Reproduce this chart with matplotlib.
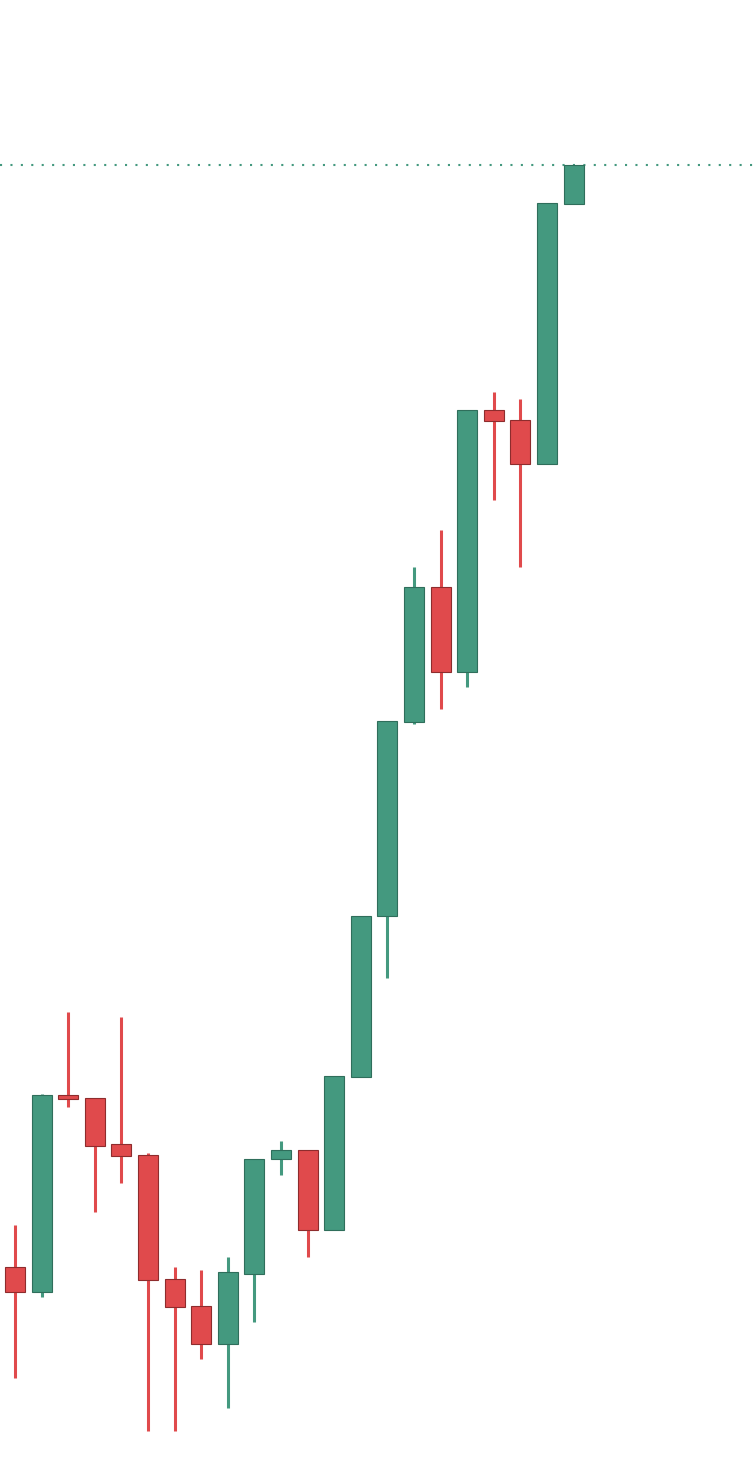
import matplotlib
matplotlib.use('Agg')
import matplotlib.pyplot as plt

# candle data (open, high, low, close)
opens = [19.5, 17.0, 36.7, 36.4, 31.8, 30.7, 18.3, 15.6, 11.8, 18.8, 30.3,
         31.2, 23.2, 38.5, 54.6, 74.0, 87.5, 79.0, 105.2, 104.2, 99.8, 125.8]
highs = [23.7, 36.8, 45.0, 36.4, 44.5, 30.9, 19.5, 19.2, 20.5, 30.3, 32.1,
         31.2, 38.6, 54.6, 74.1, 89.5, 93.2, 105.2, 107.0, 106.3, 125.9, 129.7]
lows = [8.4, 16.5, 35.5, 25.0, 27.9, 3.1, 3.1, 10.3, 5.4, 14.0, 28.7,
        20.5, 23.2, 38.5, 48.4, 73.8, 75.3, 77.5, 96.2, 89.5, 99.8, 125.8]
closes = [17.0, 36.7, 36.3, 31.6, 30.6, 18.2, 15.5, 11.8, 19.0, 30.3, 31.2,
          23.2, 38.6, 54.6, 74.1, 87.5, 79.0, 105.2, 104.1, 99.8, 125.9, 129.7]

up_color = '#44997f'
up_edge = '#2f6e5b'
down_color = '#e04a4c'
down_edge = '#8e2c2d'

fig = plt.figure(figsize=(7.54, 14.62), dpi=100)
ax = fig.add_axes([0, 0, 1, 1])

idx = list(range(len(opens)))
for i in idx:
    o, h, l, c = opens[i], highs[i], lows[i], closes[i]
    up = c >= o
    fc = up_color if up else down_color
    ec = up_edge if up else down_edge
    # wick
    ax.vlines(i, l, h, color=fc, linewidth=2.2, zorder=1)
    # body
    ax.bar(i, abs(c - o), bottom=min(o, c), width=0.75,
           color=fc, edgecolor=ec, linewidth=0.8, zorder=2)

# last price line
ax.axhline(closes[-1], color=up_color, linestyle=(0, (1, 4)),
           linewidth=1.5, zorder=0)

ax.set_xlim(-0.564, 27.78)
ax.set_ylim(0, 146.2)
ax.axis('off')

fig.savefig('out.png', dpi=100, facecolor='white')
